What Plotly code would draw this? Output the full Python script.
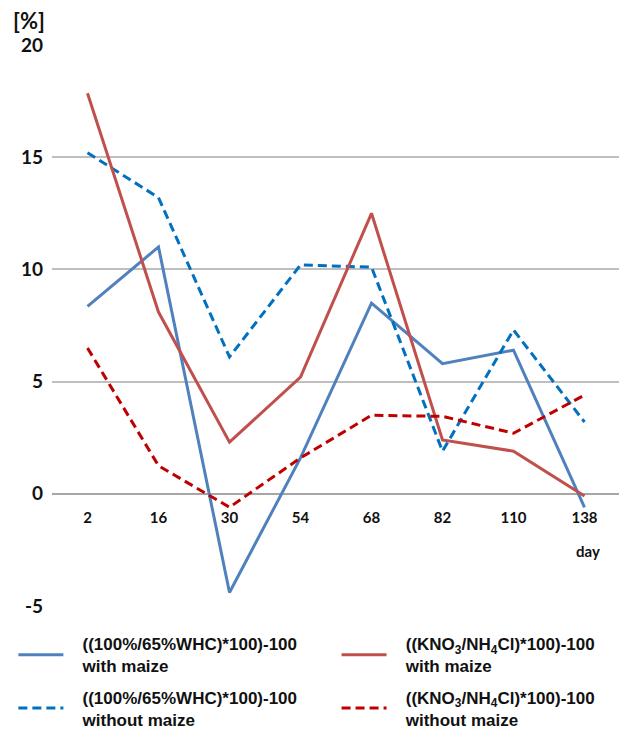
import plotly.graph_objects as go

days = ["2", "16", "30", "54", "68", "82", "110", "138"]
whc_with = [8.35, 11.0, -4.4, 1.6, 8.5, 5.8, 6.4, -0.6]
whc_without = [15.2, 13.2, 6.1, 10.2, 10.1, 1.9, 7.3, 3.2]
kno_with = [17.85, 8.1, 2.3, 5.2, 12.5, 2.4, 1.9, -0.1]
kno_without = [6.5, 1.25, -0.6, 1.6, 3.5, 3.45, 2.7, 4.4]
y_ticks = [-5, 0, 5, 10, 15, 20]
y_tick_text = ["-5", "0", "5", "10", "15", "20"]

pad = "&nbsp;&nbsp;&nbsp;"
names = [
    pad + "((100%/65%WHC)*100)-100<br>" + pad + "with maize",
    pad + "((100%/65%WHC)*100)-100<br>" + pad + "without maize",
    pad + "((KNO<sub>3</sub>/NH<sub>4</sub>Cl)*100)-100<br>" + pad + "with maize",
    pad + "((KNO<sub>3</sub>/NH<sub>4</sub>Cl)*100)-100<br>" + pad + "without maize",
]
series = [whc_with, whc_without, kno_with, kno_without]
colors = ["#4F81BD", "#0070C0", "#C0504D", "#C00000"]
dashes = ["solid", "9px,5px", "solid", "9px,5px"]
legends = ["legend", "legend", "legend2", "legend2"]

fig = go.Figure()
for i, (n, s, c, d, lg) in enumerate(zip(names, series, colors, dashes, legends)):
    fig.add_trace(go.Scatter(x=days, y=s, mode="lines", name=n, legend=lg,
                             legendgroup=f"g{i}",
                             line=dict(color=c, width=3, dash=d)))

legend_font = dict(family="Liberation Sans", size=17, color="#111", weight="bold")
# the page body has an 8px margin, so the figure is shrunk by 8px
fig.update_layout(
    width=619, height=726,
    margin=dict(l=44, r=7, t=37, b=128, autoexpand=False),
    plot_bgcolor="white", paper_bgcolor="white",
    showlegend=True,
    legend=dict(x=-0.068, xanchor="left", y=-0.036, yanchor="top",
                traceorder="grouped", font=legend_font, itemwidth=45,
                tracegroupgap=6, bgcolor="rgba(0,0,0,0)"),
    legend2=dict(x=0.501, xanchor="left", y=-0.036, yanchor="top",
                 traceorder="grouped", font=legend_font, itemwidth=45,
                 tracegroupgap=6, bgcolor="rgba(0,0,0,0)"),
    xaxis=dict(type="category", range=[-0.5, 7.5], showgrid=False,
               showline=False, zeroline=False, ticks="", automargin=False,
               anchor="free", position=0.2, ticklabelstandoff=13,
               tickfont=dict(family="Lato", size=15, color="#111", weight="bold")),
    yaxis=dict(range=[-5, 20], tickvals=y_ticks, ticktext=y_tick_text,
               showgrid=True, automargin=False,
               gridcolor="#BFBFBF", gridwidth=2, zeroline=True,
               zerolinecolor="#A6A6A6", zerolinewidth=2, showline=False,
               ticks="", ticklabelstandoff=8,
               tickfont=dict(family="Lato", size=19, color="#111", weight="bold")),
)

fig.add_annotation(text="[%]", xref="paper", yref="paper", x=-0.072, y=1.0,
                   yshift=25, xanchor="left", yanchor="middle", showarrow=False,
                   font=dict(family="Lato", size=22, color="#111", weight="bold"))
fig.add_annotation(text="day", xref="paper", yref="paper", x=0.944, y=0.098,
                   xanchor="center", yanchor="middle", showarrow=False,
                   font=dict(family="Lato", size=15, color="#111", weight="bold"))

fig.write_html("out.html")
